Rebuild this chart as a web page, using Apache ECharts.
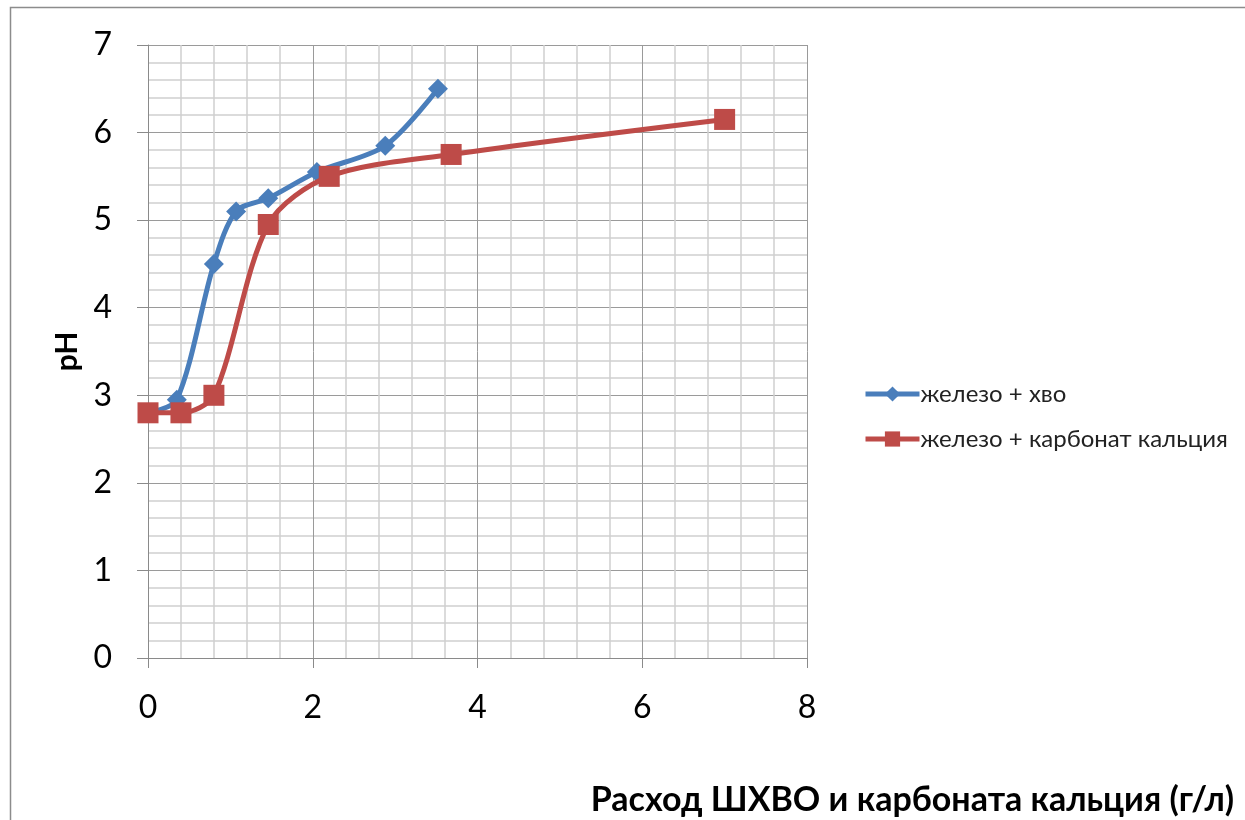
<!DOCTYPE html>
<html>
<head>
<meta charset="utf-8">
<script src="https://cdn.jsdelivr.net/npm/echarts@6/dist/echarts.min.js"></script>
<style>
  html, body { margin: 0; padding: 0; background: #fff; }
  #chart { width: 1245px; height: 820px; }
</style>
</head>
<body>
<div id="chart"></div>
<script>
// pH against reagent dose (g/l)
const seriesNames = ['железо + хво', 'железо + карбонат кальция'];
const doseHvo = [0, 0.35, 0.8, 1.07, 1.46, 2.05, 2.88, 3.52];
const phHvo   = [2.8, 2.95, 4.5, 5.1, 5.25, 5.55, 5.85, 6.5];
const doseCarb = [0, 0.4, 0.8, 1.46, 2.2, 3.68, 7.0];
const phCarb   = [2.8, 2.8, 3.0, 4.95, 5.5, 5.75, 6.15];
const xTitle = 'Расход ШХВО и карбоната кальция (г/л)';
const yTitle = 'pH';

const pairs = (xs, ys) => xs.map((x, i) => [x, ys[i]]);
const font = 'Lato, "Open Sans", sans-serif';

const chart = echarts.init(document.getElementById('chart'), null, { renderer: 'canvas' });
chart.setOption({
  animation: false,
  backgroundColor: '#fff',
  textStyle: { fontFamily: font },
  title: {
    text: xTitle,
    right: 6,
    bottom: -2,
    textStyle: { fontFamily: font, fontSize: 34, fontWeight: 'bold', color: '#000' }
  },
  graphic: [{
    type: 'rect',
    left: 8, top: 5,
    shape: { width: 1260, height: 840 },
    style: { fill: 'none', stroke: '#8c8c8c', lineWidth: 1.5 },
    silent: true, z: -10
  }],
  grid: { left: 148, top: 45, right: 438, bottom: 162, containLabel: false },
  legend: {
    orient: 'vertical',
    left: 858,
    top: 377,
    itemGap: 21,
    itemWidth: 54,
    itemHeight: 19,
    lineStyle: { width: 5 },
    textStyle: { fontFamily: font, fontSize: 24, color: '#222', padding: [0, 0, 0, -4] },
    data: seriesNames
  },
  xAxis: {
    type: 'value',
    min: 0, max: 8, interval: 2,
    axisLine: { show: true, lineStyle: { color: '#8a8a8a', width: 1 } },
    axisTick: { show: true, length: 10, lineStyle: { color: '#8a8a8a' } },
    axisLabel: { fontSize: 32, color: '#000', margin: 34, fontFamily: font },
    splitLine: { show: true, lineStyle: { color: '#9a9a9a', width: 1 } },
    minorTick: { show: false, splitNumber: 5 },
    minorSplitLine: { show: true, lineStyle: { color: '#cfcfcf', width: 1.5 } }
  },
  yAxis: {
    type: 'value',
    min: 0, max: 7, interval: 1,
    name: yTitle,
    nameLocation: 'middle',
    nameRotate: 90,
    nameGap: 66,
    nameTextStyle: { fontSize: 30, fontWeight: 'bold', color: '#000', fontFamily: font },
    axisLine: { show: true, lineStyle: { color: '#8a8a8a', width: 1 } },
    axisTick: { show: true, length: 11, lineStyle: { color: '#8a8a8a' } },
    axisLabel: { fontSize: 32, color: '#000', margin: 36, fontFamily: font },
    splitLine: { show: true, lineStyle: { color: '#9a9a9a', width: 1 } },
    minorTick: { show: false, splitNumber: 5 },
    minorSplitLine: { show: true, lineStyle: { color: '#cfcfcf', width: 1.5 } }
  },
  series: [
    {
      name: seriesNames[0],
      type: 'line',
      data: pairs(doseHvo, phHvo),
      smooth: 0.3,
      symbol: 'diamond',
      symbolSize: 20,
      color: '#4a7ebb',
      lineStyle: { width: 5, color: '#4a7ebb' },
      itemStyle: { color: '#4a7ebb' },
      z: 2
    },
    {
      name: seriesNames[1],
      type: 'line',
      data: pairs(doseCarb, phCarb),
      smooth: 0.3,
      symbol: 'rect',
      symbolSize: 21,
      color: '#be4b48',
      lineStyle: { width: 5, color: '#be4b48' },
      itemStyle: { color: '#be4b48' },
      z: 3
    }
  ]
});
</script>
</body>
</html>
